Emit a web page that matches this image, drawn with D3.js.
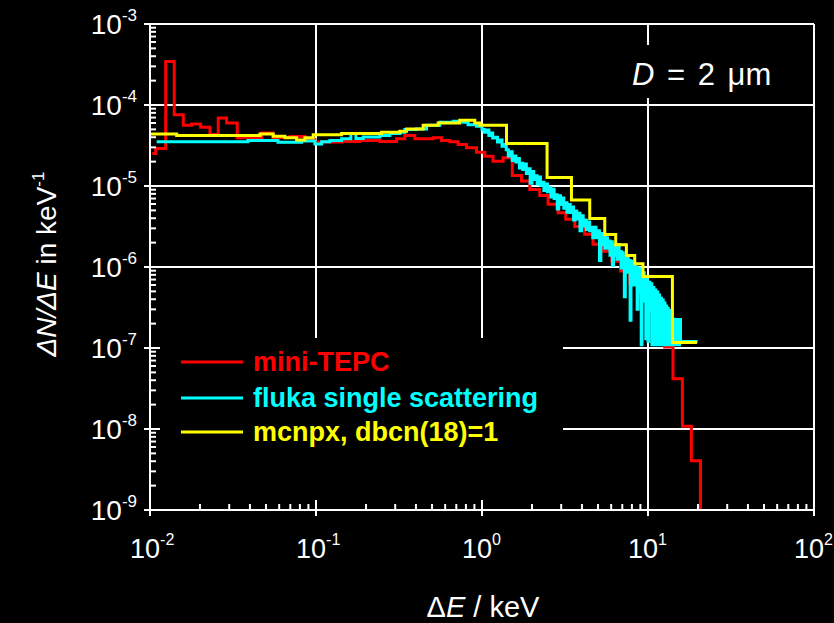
<!DOCTYPE html>
<html>
<head>
<meta charset="utf-8">
<script src="https://cdn.jsdelivr.net/npm/d3@7"></script>
<style>
  html, body { margin: 0; padding: 0; background: #000; }
  svg { display: block; }
  text { font-family: "Liberation Sans", Arial, sans-serif; fill: #fff; }
</style>
</head>
<body>
<svg id="chart" width="834" height="623"></svg>
<script>
'use strict';

// mini-TEPC measurement (bin start in keV, dN/dE in 1/keV)
var redE = [0.01032, 0.01082, 0.01243, 0.01400, 0.01587, 0.01782, 0.02020, 0.02297, 0.02577, 0.02895,
  0.03355, 0.04705, 0.05502, 0.06964, 0.08575, 0.0985, 0.1426, 0.1838, 0.2425, 0.3056,
  0.3429, 0.3938, 0.5077, 0.5704, 0.6399, 0.7180, 0.8066, 0.9267, 1.040, 1.166,
  1.340, 1.522, 1.729, 1.940, 2.228, 2.500, 2.872, 3.195, 3.62, 4.157,
  4.665, 5.34, 6.05, 6.85, 7.76, 8.79, 9.96, 11.13, 12.60, 14.14,
  16.11, 18.25, 20.69];
var redV = [2.52e-5, 2.90e-5, 3.44e-4, 7.60e-5, 5.61e-5, 5.84e-5, 5.30e-5, 4.31e-5, 6.92e-5, 6.01e-5,
  3.93e-5, 4.52e-5, 3.96e-5, 4.07e-5, 3.74e-5, 3.49e-5, 3.54e-5, 3.64e-5, 3.54e-5, 3.82e-5,
  4.19e-5, 3.82e-5, 3.93e-5, 3.64e-5, 3.51e-5, 3.25e-5, 2.96e-5, 2.61e-5, 2.33e-5, 2.02e-5,
  2.23e-5, 1.35e-5, 1.15e-5, 9.08e-6, 7.66e-6, 5.94e-6, 4.69e-6, 3.88e-6, 3.16e-6, 2.54e-6,
  1.91e-6, 1.57e-6, 1.18e-6, 8.9e-7, 6.16e-7, 4.26e-7, 2.87e-7, 1.72e-7, 1.03e-7, 4.18e-8,
  1.08e-8, 4.06e-9, 1e-10];

// fluka single scattering
var cyanE = [0.01097, 0.0389, 0.0590, 0.0819, 0.0985, 0.1081, 0.1213, 0.1426, 0.1623, 0.1739,
  0.1924, 0.2425, 0.2786, 0.3200, 0.3429, 0.4033, 0.4633, 0.5572, 0.6699, 0.7694,
  0.8245, 0.9267, 1.0, 1.03, 1.06, 1.1, 1.13, 1.16, 1.2, 1.24,
  1.28, 1.32, 1.36, 1.4, 1.44, 1.48, 1.52, 1.56, 1.6, 1.64,
  1.68, 1.72, 1.76, 1.8, 1.85, 1.9, 1.95, 2.0, 2.05, 2.1,
  2.15, 2.2, 2.25, 2.3, 2.36, 2.42, 2.48, 2.54, 2.6, 2.66,
  2.72, 2.78, 2.84, 2.9, 2.97, 3.04, 3.11, 3.18, 3.25, 3.32,
  3.4, 3.48, 3.56, 3.64, 3.72, 3.8, 3.89, 3.98, 4.07, 4.16,
  4.25, 4.35, 4.45, 4.55, 4.65, 4.75, 4.86, 4.97, 5.1, 5.2,
  5.3, 5.4, 5.5, 5.6, 5.7, 5.8, 5.9, 6.0, 6.1, 6.2,
  6.3, 6.4, 6.5, 6.6, 6.7, 6.8, 6.9, 7.0, 7.1, 7.2,
  7.3, 7.4, 7.5, 7.6, 7.7, 7.8, 7.9, 8.0, 8.1, 8.2,
  8.3, 8.4, 8.5, 8.6, 8.7, 8.8, 8.9, 9.0, 9.1, 9.2,
  9.3, 9.4, 9.5, 9.6, 9.7, 9.8, 9.9, 10.0, 10.1, 10.25,
  10.4, 10.55, 10.7, 10.85, 11.0, 11.15, 11.3, 11.45, 11.6, 11.75,
  11.9, 12.05, 12.2, 12.35, 12.5, 12.65, 12.8, 12.95, 13.1, 13.25,
  13.4, 13.55, 13.7, 13.85, 14.0, 14.15, 14.3, 14.5, 14.7, 14.9,
  15.1, 15.3, 15.5, 15.7, 19.9];
var cyanV = [3.51e-5, 3.64e-5, 3.47e-5, 3.59e-5, 3.31e-5, 3.51e-5, 3.64e-5, 3.82e-5, 4.44e-5, 3.85e-5,
  4.04e-5, 4.19e-5, 4.44e-5, 4.60e-5, 4.97e-5, 5.07e-5, 5.61e-5, 6.11e-5, 6.28e-5, 6.11e-5,
  5.72e-5, 5.45e-5, 5.0e-5, 4.6e-5, 4.9e-5, 4.2e-5, 4.5e-5, 3.9e-5, 4.0e-5, 3.5e-5,
  3.7e-5, 3.1e-5, 3.25e-5, 2.8e-5, 2.35e-5, 2.64e-5, 2.06e-5, 2.35e-5, 1.98e-5, 2.19e-5,
  1.67e-5, 1.91e-5, 1.6e-5, 1.87e-5, 1.43e-5, 1.63e-5, 1.08e-5, 1.51e-5, 1.2e-5, 1.34e-5,
  1.06e-5, 1.29e-5, 1.02e-5, 1.11e-5, 8.8e-6, 1.06e-5, 8.5e-6, 9.5e-6, 7.3e-6, 9.1e-6,
  7.0e-6, 7.8e-6, 5.2e-6, 7.6e-6, 5.9e-6, 7.1e-6, 5.3e-6, 6.2e-6, 4.75e-6, 5.9e-6,
  4.7e-6, 5.5e-6, 3.8e-6, 4.9e-6, 3.9e-6, 4.6e-6, 2.8e-6, 4.3e-6, 3.2e-6, 3.8e-6,
  2.9e-6, 3.6e-6, 2.8e-6, 3.1e-6, 2.3e-6, 3.1e-6, 2.3e-6, 2.8e-6, 1.2e-6, 2.6e-6,
  1.9e-6, 2.4e-6, 1.7e-6, 2.3e-6, 1.7e-6, 2.1e-6, 1.4e-6, 2.05e-6, 1.05e-6, 1.85e-6,
  1.4e-6, 1.8e-6, 1.25e-6, 1.9e-6, 1.25e-6, 1.55e-6, 9.7e-7, 1.5e-6, 1.1e-6, 4.3e-7,
  1.35e-6, 9.7e-7, 1.3e-6, 8.6e-7, 1.2e-6, 2.2e-7, 1.18e-6, 7.4e-7, 1.08e-6, 6.0e-7,
  1.08e-6, 7.2e-7, 9.9e-7, 3.0e-7, 9.0e-7, 6.2e-7, 9.5e-7, 5.0e-7, 1.1e-7, 8.1e-7,
  5.1e-7, 8.5e-7, 3.8e-7, 7.1e-7, 1.3e-7, 7.2e-7, 3.9e-7, 1.2e-7, 6.5e-7, 3.0e-7,
  6.2e-7, 1.1e-7, 5.6e-7, 2.6e-7, 5.2e-7, 1.1e-7, 4.9e-7, 2.2e-7, 4.5e-7, 1.1e-7,
  4.1e-7, 1.8e-7, 3.9e-7, 1.1e-7, 3.6e-7, 1.5e-7, 3.3e-7, 1.1e-7, 3.1e-7, 1.3e-7,
  2.9e-7, 1.1e-7, 2.6e-7, 1.2e-7, 2.3e-7, 1.1e-7, 2.25e-7, 1.1e-7, 2.25e-7, 1.2e-7,
  2.25e-7, 1.1e-7, 2.25e-7, 1.2e-7, 1.2e-7];

// mcnpx, dbcn(18)=1
var yellowE = [0.01, 0.01448, 0.04595, 0.05525, 0.06497, 0.07641, 0.08575, 0.09618, 0.1426, 0.2483,
  0.3200, 0.3513, 0.4420, 0.5441, 0.7350, 0.9051, 0.9700, 1.405, 2.466, 3.458,
  4.457, 5.488, 6.39, 7.41, 8.32, 9.33, 14.03, 19.72];
var yellowV = [4.40e-5, 4.19e-5, 4.40e-5, 4.11e-5, 3.93e-5, 3.71e-5, 3.93e-5, 4.28e-5, 4.44e-5, 4.60e-5,
  4.74e-5, 5.07e-5, 5.61e-5, 6.01e-5, 6.46e-5, 6.01e-5, 5.64e-5, 3.34e-5, 1.27e-5, 6.71e-6,
  3.96e-6, 2.52e-6, 1.88e-6, 1.39e-6, 1.10e-6, 7.66e-7, 1.17e-7, 1.17e-7];

var seriesNames = ['mini-TEPC', 'fluka single scattering', 'mcnpx, dbcn(18)=1'];
var seriesColors = ['#ff0000', '#00ffff', '#ffff00'];

var xDecades = [-2, -1, 0, 1, 2];
var yDecades = [-9, -8, -7, -6, -5, -4, -3];

var pL = 150, pR = 814, pT = 24, pB = 510;

var svg = d3.select('#chart');
svg.append('rect').attr('width', 834).attr('height', 623).attr('fill', '#000');

var x = d3.scaleLog().domain([1e-2, 1e2]).range([pL, pR]);
var y = d3.scaleLog().domain([1e-9, 1e-3]).range([pB, pT]);

svg.append('defs').append('clipPath').attr('id', 'plot-clip')
    .append('rect')
    .attr('x', pL).attr('y', pT)
    .attr('width', pR - pL).attr('height', pB - pT);

// grid
var grid = svg.append('g').attr('stroke', '#fff').attr('stroke-width', 2);
grid.selectAll('line.gx').data(xDecades).enter().append('line')
    .attr('class', 'gx')
    .attr('x1', function (d) { return x(Math.pow(10, d)); })
    .attr('x2', function (d) { return x(Math.pow(10, d)); })
    .attr('y1', pT).attr('y2', pB);
grid.selectAll('line.gy').data(yDecades).enter().append('line')
    .attr('class', 'gy')
    .attr('y1', function (d) { return y(Math.pow(10, d)); })
    .attr('y2', function (d) { return y(Math.pow(10, d)); })
    .attr('x1', pL).attr('x2', pR);

// black boxes behind legend and label
svg.append('rect').attr('x', pL).attr('y', 338).attr('width', 563 - pL).attr('height', pB - 338).attr('fill', '#000');
svg.append('rect').attr('x', 622).attr('y', 45).attr('width', 172).attr('height', 53).attr('fill', '#000');

// data
var line = d3.line()
    .x(function (d) { return x(d[0]); })
    .y(function (d) { return y(Math.max(d[1], 1e-10)); })
    .curve(d3.curveStepAfter);

function pairs(es, vs) {
    return es.map(function (e, i) { return [e, vs[i]]; });
}

var plot = svg.append('g').attr('clip-path', 'url(#plot-clip)');
[pairs(redE, redV), pairs(cyanE, cyanV), pairs(yellowE, yellowV)].forEach(function (pts, i) {
    plot.append('path')
        .datum(pts)
        .attr('d', line)
        .attr('fill', 'none')
        .attr('stroke', seriesColors[i])
        .attr('stroke-width', 3);
});

// axes
var axes = svg.append('g').attr('stroke', '#fff').attr('stroke-width', 2);
axes.append('line').attr('x1', pL).attr('x2', pR).attr('y1', pB).attr('y2', pB);
axes.append('line').attr('x1', pL).attr('x2', pL).attr('y1', pT).attr('y2', pB);

var xMinor = [], yMinor = [];
xDecades.slice(0, -1).forEach(function (d) {
    for (var k = 2; k < 10; k++) { xMinor.push(k * Math.pow(10, d)); }
});
yDecades.slice(0, -1).forEach(function (d) {
    for (var k = 2; k < 10; k++) { yMinor.push(k * Math.pow(10, d)); }
});

axes.selectAll('line.xmin').data(xMinor).enter().append('line')
    .attr('x1', function (d) { return x(d); }).attr('x2', function (d) { return x(d); })
    .attr('y1', pB).attr('y2', pB - 6);
axes.selectAll('line.xmaj').data(xDecades).enter().append('line')
    .attr('x1', function (d) { return x(Math.pow(10, d)); }).attr('x2', function (d) { return x(Math.pow(10, d)); })
    .attr('y1', pB + 6).attr('y2', pB - 10);
axes.selectAll('line.ymin').data(yMinor).enter().append('line')
    .attr('y1', function (d) { return y(d); }).attr('y2', function (d) { return y(d); })
    .attr('x1', pL).attr('x2', pL + 6);
axes.selectAll('line.ymaj').data(yDecades).enter().append('line')
    .attr('y1', function (d) { return y(Math.pow(10, d)); }).attr('y2', function (d) { return y(Math.pow(10, d)); })
    .attr('x1', pL - 6).attr('x2', pL + 10);

// tick labels
var xl = svg.append('g').selectAll('text').data(xDecades).enter().append('text')
    .attr('x', function (d) { return x(Math.pow(10, d)) - 20; })
    .attr('y', 558)
    .attr('font-size', 27);
xl.append('tspan').text('10');
xl.append('tspan').attr('dy', -13).attr('font-size', 16).text(function (d) { return d; });

var yl = svg.append('g').selectAll('text').data(yDecades).enter().append('text')
    .attr('x', 137)
    .attr('y', function (d) { return y(Math.pow(10, d)) + 10; })
    .attr('text-anchor', 'end')
    .attr('font-size', 28);
yl.append('tspan').text('10');
yl.append('tspan').attr('dy', -13).attr('font-size', 17).text(function (d) { return d; });

// axis titles
var xt = svg.append('text')
    .attr('x', 483).attr('y', 617)
    .attr('text-anchor', 'middle').attr('font-size', 29);
xt.append('tspan').text('\u0394');
xt.append('tspan').attr('font-style', 'italic').text('E');
xt.append('tspan').text(' / keV');

var yt = svg.append('text')
    .attr('transform', 'translate(56,264) rotate(-90)')
    .attr('text-anchor', 'middle').attr('font-size', 28);
yt.append('tspan').attr('font-style', 'italic').text('\u0394N/\u0394E');
yt.append('tspan').text(' in keV');
yt.append('tspan').attr('dy', -12).attr('font-size', 17).text('-1');

// D = 2 um
var dl = svg.append('text').attr('x', 632).attr('y', 85).attr('font-size', 31)
    .attr('word-spacing', 4);
dl.append('tspan').attr('font-style', 'italic').text('D');
dl.append('tspan').text(' = 2 \u03bcm');

// legend
var legend = svg.append('g').selectAll('g').data(seriesNames).enter().append('g')
    .attr('transform', function (d, i) { return 'translate(0,' + [362, 398, 432][i] + ')'; });
legend.append('line')
    .attr('x1', 181).attr('x2', 243)
    .attr('stroke', function (d, i) { return seriesColors[i]; })
    .attr('stroke-width', 3);
legend.append('text')
    .attr('x', 253).attr('y', 9)
    .attr('font-size', 27).attr('font-weight', 'bold')
    .style('fill', function (d, i) { return seriesColors[i]; })
    .text(function (d) { return d; });
</script>
</body>
</html>
